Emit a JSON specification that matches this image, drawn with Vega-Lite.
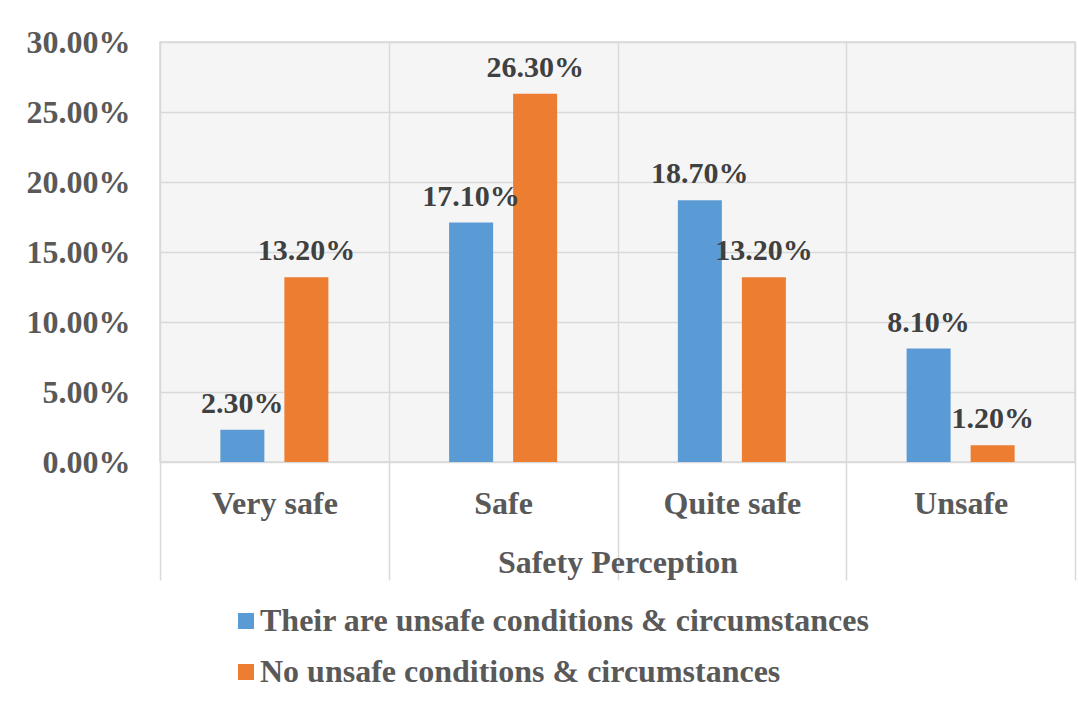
{
  "$schema": "https://vega.github.io/schema/vega-lite/v6.json",
  "width": 915,
  "height": 420,
  "autosize": {"type": "none"},
  "padding": {"left": 160, "top": 42, "right": 3, "bottom": 240},
  "background": "white",
  "data": {
    "values": [
      {"category": "Very safe", "series": "Their are unsafe conditions & circumstances", "value": 0.023},
      {"category": "Very safe", "series": "No unsafe conditions & circumstances", "value": 0.132},
      {"category": "Safe", "series": "Their are unsafe conditions & circumstances", "value": 0.171},
      {"category": "Safe", "series": "No unsafe conditions & circumstances", "value": 0.263},
      {"category": "Quite safe", "series": "Their are unsafe conditions & circumstances", "value": 0.187},
      {"category": "Quite safe", "series": "No unsafe conditions & circumstances", "value": 0.132},
      {"category": "Unsafe", "series": "Their are unsafe conditions & circumstances", "value": 0.081},
      {"category": "Unsafe", "series": "No unsafe conditions & circumstances", "value": 0.012}
    ]
  },
  "encoding": {
    "x": {
      "field": "category", "type": "nominal", "sort": null,
      "scale": {"paddingInner": 0, "paddingOuter": 0},
      "axis": {
        "title": "Safety Perception",
        "labelAngle": 0,
        "tickBand": "extent",
        "ticks": true,
        "tickSize": 118,
        "tickColor": "#d9d9d9",
        "tickWidth": 1.5,
        "domain": false,
        "grid": true,
        "gridColor": "#d9d9d9",
        "gridWidth": 1.5,
        "labelBaseline": "alphabetic",
        "labelPadding": -67,
        "labelFontSize": 32,
        "labelFontWeight": "bold",
        "labelColor": "#595959",
        "titleFontSize": 32,
        "titleFontWeight": "bold",
        "titleColor": "#595959",
        "titleBaseline": "alphabetic",
        "titleY": 110
      }
    },
    "xOffset": {
      "field": "series", "type": "nominal", "sort": null,
      "scale": {"paddingInner": 0.3125, "paddingOuter": 0.943}
    },
    "y": {
      "field": "value", "type": "quantitative",
      "scale": {"domain": [0, 0.3]},
      "axis": {
        "title": null,
        "format": ".2%",
        "values": [0, 0.05, 0.1, 0.15, 0.2, 0.25, 0.3],
        "ticks": false,
        "domain": false,
        "gridColor": "#d9d9d9",
        "gridWidth": 1.5,
        "labelPadding": 30,
        "labelFontSize": 32,
        "labelFontWeight": "bold",
        "labelColor": "#595959"
      }
    }
  },
  "layer": [
    {
      "mark": {"type": "bar"},
      "encoding": {
        "color": {
          "field": "series", "type": "nominal", "sort": null,
          "scale": {"range": ["#5B9BD5", "#ED7D31"]},
          "legend": {
            "title": null,
            "orient": "none",
            "legendX": 70,
            "legendY": 563,
            "padding": 0,
            "direction": "vertical",
            "symbolType": "square",
            "symbolSize": 256,
            "symbolStrokeWidth": 0,
            "labelOffset": -2,
            "rowPadding": 19,
            "labelLimit": 0,
            "labelFontSize": 32,
            "labelFontWeight": "bold",
            "labelColor": "#595959"
          }
        }
      }
    },
    {
      "mark": {"type": "text", "baseline": "alphabetic", "dy": -17, "fontSize": 30, "fontWeight": "bold", "color": "#404040"},
      "encoding": {
        "text": {"field": "value", "type": "quantitative", "format": ".2%"}
      }
    }
  ],
  "config": {
    "font": "Liberation Serif",
    "view": {"fill": "#f5f5f5", "stroke": "#d9d9d9", "strokeWidth": 1.5}
  }
}
